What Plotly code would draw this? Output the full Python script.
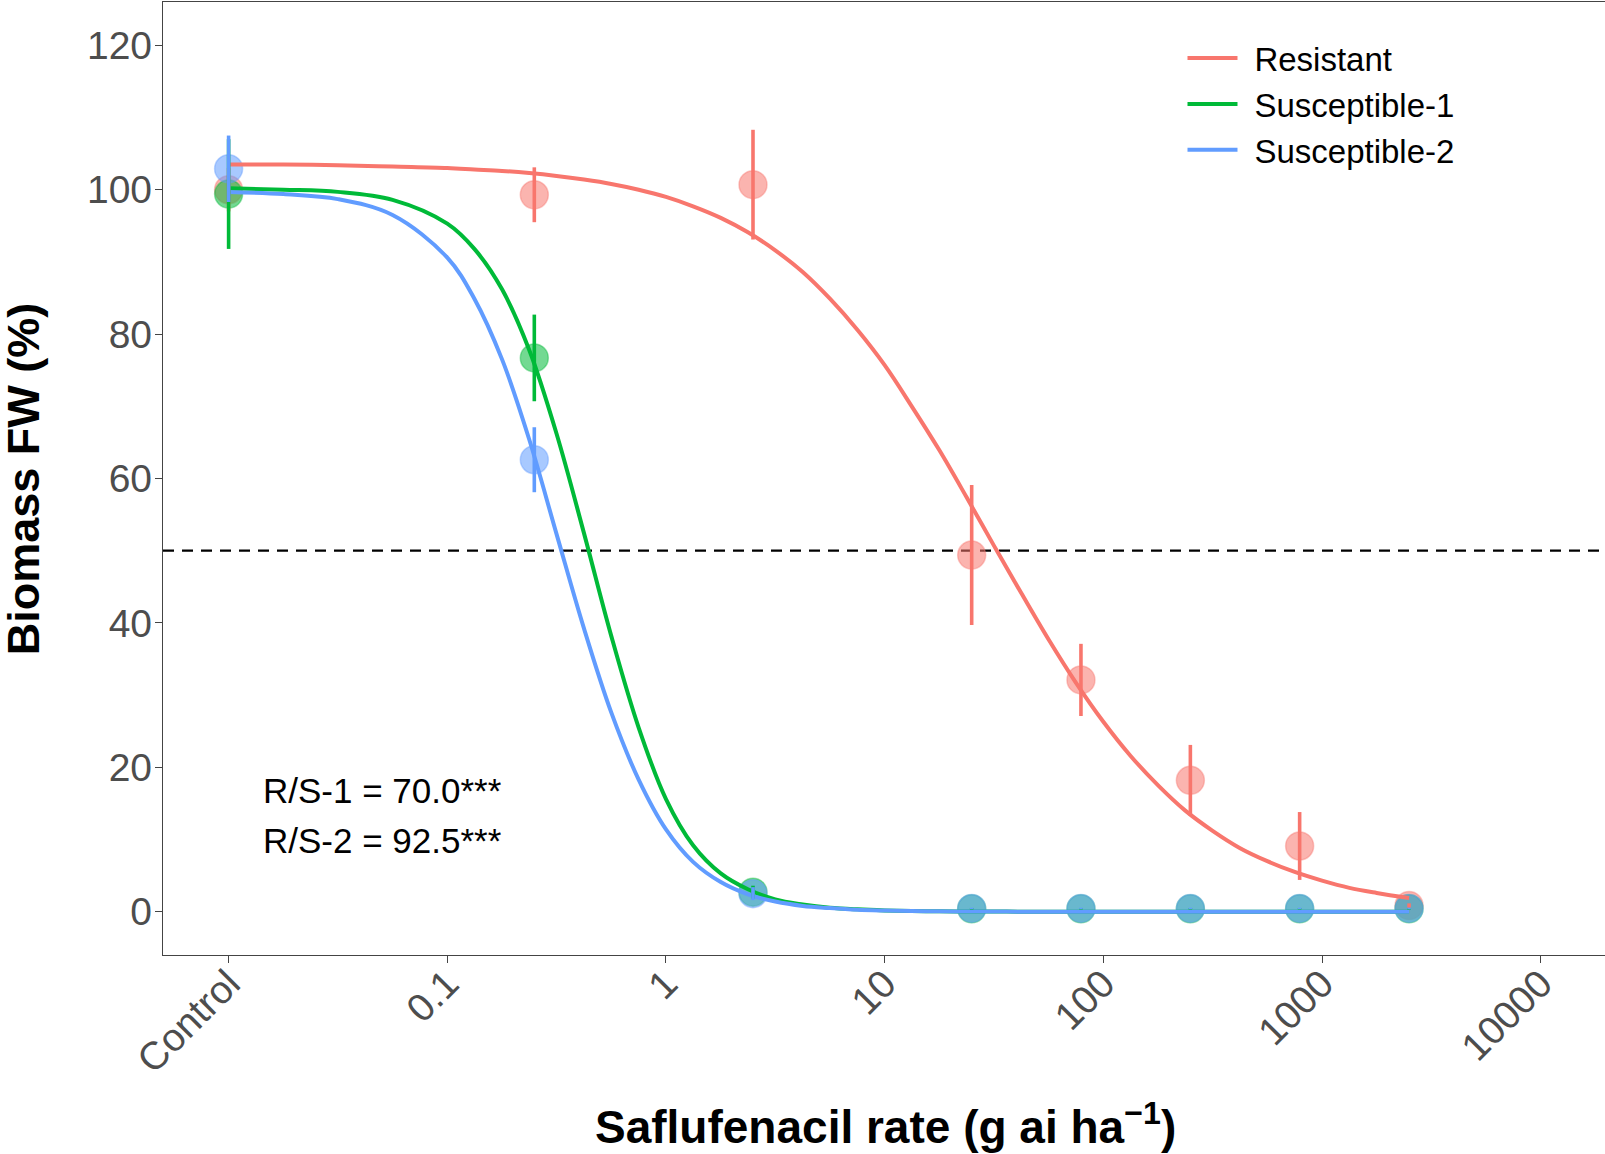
import plotly.graph_objects as go

# ---------------- data ----------------
doses = [0.01, 0.25, 2.5, 25, 79, 250, 790, 2500]   # 0.01 = "Control" position

res_mean = [100.0, 99.3, 100.7, 49.4, 32.1, 18.2, 9.1, 0.85]
res_err = [3.0, 3.8, 7.6, 9.7, 5.0, 4.9, 4.7, 0.3]
s1_mean = [99.4, 76.7, 2.7, 0.4, 0.4, 0.4, 0.4, 0.4]
s1_err = [7.6, 6.0, 0.9, 0.1, 0.1, 0.1, 0.1, 0.1]
s2_mean = [102.9, 62.6, 2.5, 0.45, 0.45, 0.45, 0.45, 0.45]
s2_err = [4.6, 4.5, 0.9, 0.1, 0.1, 0.1, 0.1, 0.1]

# fitted dose-response curves
curve_x = [0.01, 0.0178, 0.0316, 0.0562, 0.1, 0.133, 0.178, 0.237, 0.316, 0.422,
           0.562, 0.75, 1, 1.33, 1.78, 2.37, 3.16, 4.22, 5.62, 7.5,
           10, 13.3, 17.8, 23.7, 31.6, 42.2, 56.2, 75, 100, 133,
           178, 237, 316, 422, 562, 750, 1000, 1334, 1778, 2500]
res_curve = [103.5, 103.5, 103.4, 103.2, 103.0, 102.8, 102.6, 102.3, 101.9, 101.4,
             100.8, 100.0, 99.0, 97.7, 96.1, 94.1, 91.6, 88.6, 84.9, 80.6,
             75.7, 70.0, 63.9, 57.4, 50.7, 44.1, 37.7, 31.7, 26.3, 21.6,
             17.5, 14.0, 11.2, 8.8, 7.0, 5.5, 4.3, 3.3, 2.6, 1.9]
s1_curve = [100.2, 100.0, 99.7, 98.6, 95.3, 91.8, 86.2, 77.8, 66.2, 52.4,
            38.2, 25.5, 15.6, 9.2, 5.3, 3.1, 1.7, 1.0, 0.55, 0.32,
            0.18, 0.1, 0.06, 0.03, 0.02, 0, 0, 0, 0, 0,
            0, 0, 0, 0, 0, 0, 0, 0, 0, 0]
s2_curve = [99.7, 99.4, 98.7, 96.5, 90.6, 84.9, 76.5, 65.4, 52.3, 39.2,
            27.6, 18.3, 11.4, 6.9, 4.1, 2.4, 1.4, 0.8, 0.5, 0.27,
            0.16, 0.09, 0.05, 0.03, 0.02, 0, 0, 0, 0, 0,
            0, 0, 0, 0, 0, 0, 0, 0, 0, 0]

series_names = ["Resistant", "Susceptible-1", "Susceptible-2"]
tick_vals = [0.01, 0.1, 1, 10, 100, 1000, 10000]
tick_text = ["Control", "0.1", "1", "10", "100", "1000", "10000"]
y_ticks = [0, 20, 40, 60, 80, 100, 120]
ratio_lines = ["R/S-1 = 70.0***", "R/S-2 = 92.5***"]

# ---------------- style ----------------
rgb = [(248, 118, 109), (0, 186, 56), (97, 156, 255)]
FONT = "Liberation Sans, Arial, sans-serif"

means = [res_mean, s1_mean, s2_mean]
errs = [res_err, s1_err, s2_err]
curves = [res_curve, s1_curve, s2_curve]

fig = go.Figure()

# points
for i in range(3):
    r, g, b = rgb[i]
    fig.add_trace(go.Scatter(
        x=doses, y=means[i], mode="markers", showlegend=False, hoverinfo="skip",
        marker=dict(size=28, color=f"rgba({r},{g},{b},0.55)",
                    line=dict(width=1.5, color=f"rgba({r},{g},{b},0.4)")),
    ))

# curves
for i in range(3):
    r, g, b = rgb[i]
    fig.add_trace(go.Scatter(
        x=curve_x, y=curves[i], mode="lines",
        name="\u00a0\u200a" + series_names[i],
        line=dict(color=f"rgb({r},{g},{b})", width=4, shape="spline", smoothing=1.0),
    ))

# error bars
for i in range(3):
    r, g, b = rgb[i]
    fig.add_trace(go.Scatter(
        x=doses, y=means[i], mode="markers", showlegend=False, hoverinfo="skip",
        marker=dict(size=1, color="rgba(0,0,0,0)"),
        error_y=dict(type="data", array=errs[i], visible=True, width=0,
                     thickness=3.6, color=f"rgb({r},{g},{b})"),
    ))

# 50 % reference line
fig.add_shape(type="line", xref="paper", x0=0, x1=1, yref="y", y0=50, y1=50,
              line=dict(color="black", width=2.2, dash="11px,8px"), layer="below")

# ratio annotations
for k, txt in enumerate(ratio_lines):
    fig.add_annotation(text=txt, xref="paper", yref="y", x=0.068, y=[16.8, 9.9][k],
                       xanchor="left", yanchor="middle", showarrow=False,
                       font=dict(family=FONT, size=35, color="black"))

# axis titles
fig.add_annotation(text="<b>Biomass FW (%)</b>", xref="paper", yref="paper",
                   x=-0.0965, y=0.5, xanchor="center", yanchor="middle",
                   textangle=-90, showarrow=False,
                   font=dict(family=FONT, size=45, color="black"))
fig.add_annotation(text="<b>Saflufenacil rate (g ai ha<sup>\u22121</sup>)</b>",
                   xref="paper", yref="paper", x=0.5007, y=-0.177,
                   xanchor="center", yanchor="middle", showarrow=False,
                   font=dict(family=FONT, size=46, color="black"))

axis_common = dict(showgrid=False, zeroline=False, showline=True, linecolor="#444444",
                   linewidth=1.3, ticks="outside", ticklen=7, tickwidth=1.3,
                   tickcolor="#444444",
                   tickfont=dict(family=FONT, size=39, color="#4D4D4D"))

fig.update_xaxes(type="log", range=[-2.3, 4.294], tickmode="array",
                 tickvals=tick_vals, ticktext=tick_text, tickangle=-45,
                 mirror=True, ticklabelstandoff=-18, **axis_common)
fig.update_yaxes(range=[-6, 126], tickmode="array", tickvals=y_ticks,
                 ticklabelstandoff=-5, **axis_common)

fig.update_layout(
    width=1605, height=1154,
    margin=dict(l=163, r=0, t=2, b=199, autoexpand=False),
    paper_bgcolor="white", plot_bgcolor="white",
    font=dict(family=FONT),
    legend=dict(x=0.707, y=0.9705, xanchor="left", yanchor="top",
                font=dict(family=FONT, size=33, color="black"),
                bgcolor="rgba(0,0,0,0)", tracegroupgap=0, itemwidth=50),
)

fig.write_html("out.html")
